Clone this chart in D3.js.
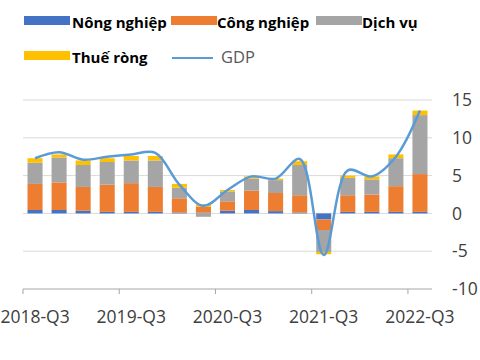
<!DOCTYPE html>
<meta charset="utf-8">
<style>
body { margin: 0; background: #fff; }
text { font-family: "Open Sans", sans-serif; }
.grid line { stroke: #d9d9d9; stroke-width: 1; }
.axis text { fill: #404040; font-size: 17.5px; }
.legend text { font-size: 15px; }
</style>
<svg width="480" height="360"></svg>
<script src="https://d3js.org/d3.v7.min.js"></script>
<script>

var quarters = ["2018-Q3","2018-Q4","2019-Q1","2019-Q2","2019-Q3","2019-Q4","2020-Q1","2020-Q2","2020-Q3",
                "2020-Q4","2021-Q1","2021-Q2","2021-Q3","2021-Q4","2022-Q1","2022-Q2","2022-Q3"];
var nongNghiep = [0.45,0.45,0.35,0.2,0.2,0.2,0.1,0.1,0.35,0.45,0.3,0.1,-0.8,0.2,0.2,0.2,0.2];
var congNghiep = [3.45,3.65,3.15,3.6,3.8,3.3,1.9,0.8,1.25,2.55,2.4,2.3,-1.4,2.2,2.3,3.4,5.0];
var dichVu     = [2.8,3.3,2.9,3.0,3.0,3.5,1.4,-0.45,1.3,1.6,1.7,4.0,-2.9,2.3,2.0,3.7,7.8];
var thueRong   = [0.6,0.4,0.6,0.5,0.6,0.6,0.5,0.3,0.2,0.3,0.2,0.5,-0.3,0.3,0.4,0.5,0.6];
var gdp        = [7.3,8.1,7.1,7.5,7.8,8.0,3.8,1.0,3.1,4.9,4.6,7.2,-5.5,5.7,4.9,7.5,13.6];
var yTicks = [-10,-5,0,5,10,15];
var xLabels = ["2018-Q3","2019-Q3","2020-Q3","2021-Q3","2022-Q3"];

var series = [
  {key: "nong", name: "Nông nghiệp", color: "#4472c4", values: nongNghiep},
  {key: "cong", name: "Công nghiệp", color: "#ed7d31", values: congNghiep},
  {key: "dich", name: "Dịch vụ", color: "#a5a5a5", values: dichVu},
  {key: "thue", name: "Thuế ròng", color: "#ffc000", values: thueRong}
];

var svg = d3.select("svg");

var x = d3.scaleBand()
    .domain(quarters)
    .range([23, 432])
    .paddingInner(0.375)
    .paddingOuter(0.1875);

var y = d3.scaleLinear()
    .domain([-10, 15])
    .range([289, 100]);

var gap = (x.step() - x.bandwidth()) / 2;

// gridlines
svg.append("g")
    .attr("class", "grid")
  .selectAll("line")
  .data(yTicks.filter(function(d) { return d > -10; }))
  .enter().append("line")
    .attr("x1", 23)
    .attr("x2", 432)
    .attr("y1", function(d) { return y(d); })
    .attr("y2", function(d) { return y(d); });

// stacked bars
var rows = quarters.map(function(q, i) {
  var r = {q: q};
  series.forEach(function(s) { r[s.key] = s.values[i]; });
  return r;
});

var stacked = d3.stack()
    .keys(series.map(function(s) { return s.key; }))
    .offset(d3.stackOffsetDiverging)(rows);

svg.append("g")
  .selectAll("g")
  .data(stacked)
  .enter().append("g")
    .attr("fill", function(d, i) { return series[i].color; })
  .selectAll("rect")
  .data(function(d) { return d; })
  .enter().append("rect")
    .attr("x", function(d) { return x(d.data.q); })
    .attr("width", x.bandwidth())
    .attr("y", function(d) { return y(Math.max(d[0], d[1])); })
    .attr("height", function(d) { return Math.abs(y(d[0]) - y(d[1])); });

// GDP line
var line = d3.line()
    .x(function(d, i) { return x(quarters[i]) + x.bandwidth() / 2; })
    .y(function(d) { return y(d); })
    .curve(d3.curveCatmullRom.alpha(0.5));

svg.append("path")
    .datum(gdp)
    .attr("fill", "none")
    .attr("stroke", "#5b9bd5")
    .attr("stroke-width", 2.5)
    .attr("d", line);

// bottom axis
var xa = svg.append("g").attr("class", "axis");
xa.append("line")
    .attr("x1", 23).attr("x2", 432)
    .attr("y1", y(-10)).attr("y2", y(-10))
    .attr("stroke", "#a6a6a6");
xa.selectAll(".tick")
  .data(xLabels)
  .enter().append("line")
    .attr("x1", function(d) { return x(d) - gap; })
    .attr("x2", function(d) { return x(d) - gap; })
    .attr("y1", y(-10)).attr("y2", y(-10) + 5)
    .attr("stroke", "#a6a6a6");
xa.selectAll("text")
  .data(xLabels)
  .enter().append("text")
    .attr("x", function(d) { return x(d) + x.bandwidth() / 2; })
    .attr("y", 323)
    .attr("text-anchor", "middle")
    .text(function(d) { return d; });

// right axis labels
svg.append("g").attr("class", "axis")
  .selectAll("text")
  .data(yTicks)
  .enter().append("text")
    .attr("x", 452)
    .attr("y", function(d) { return y(d); })
    .attr("dy", "0.35em")
    .text(function(d) { return String(d); });

// legend
var legendPos = [
  {sx: 24, tx: 72, y: 28},
  {sx: 171, tx: 217, y: 28},
  {sx: 316, tx: 362, y: 28},
  {sx: 24, tx: 72, y: 63}
];
var lg = svg.append("g").attr("class", "legend");
series.forEach(function(s, i) {
  var p = legendPos[i];
  lg.append("rect")
      .attr("x", p.sx).attr("y", p.y - 12)
      .attr("width", 46).attr("height", 9)
      .attr("fill", s.color);
  lg.append("text")
      .attr("x", p.tx).attr("y", p.y)
      .attr("font-weight", "bold")
      .attr("fill", "#000")
      .text(s.name);
});
lg.append("line")
    .attr("x1", 172).attr("x2", 213)
    .attr("y1", 58).attr("y2", 58)
    .attr("stroke", "#5b9bd5")
    .attr("stroke-width", 2);
lg.append("text")
    .attr("x", 221).attr("y", 63)
    .attr("fill", "#595959")
    .style("font-size", "16.5px")
    .text("GDP");

</script>
